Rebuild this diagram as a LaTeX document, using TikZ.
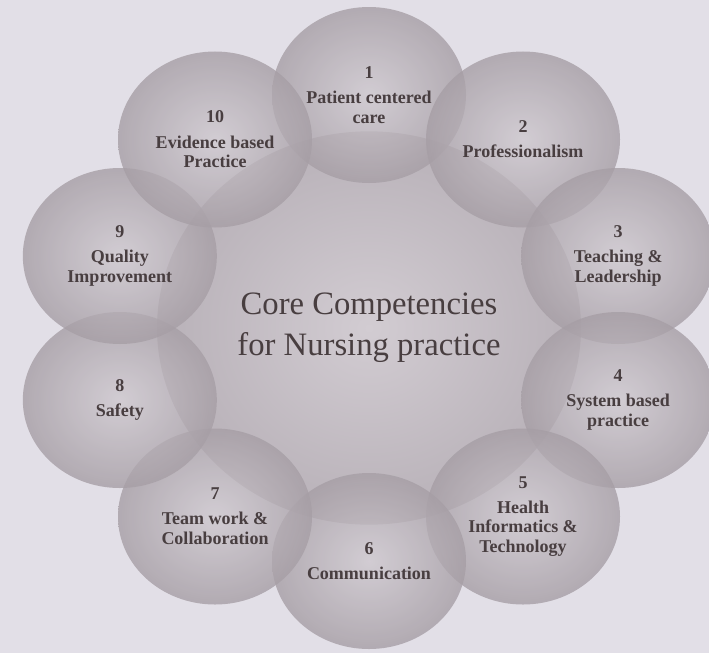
\documentclass[tikz,border=0pt]{standalone}
\usepackage{fontspec}
\setmainfont{Liberation Serif}
\usetikzlibrary{shapes.geometric}
\definecolor{paper}{RGB}{226,223,231}
\definecolor{ballin}{RGB}{206,200,206}
\definecolor{ballout}{RGB}{166,158,165}
\definecolor{corein}{RGB}{210,204,210}
\definecolor{coreout}{RGB}{184,177,184}
\definecolor{ink}{RGB}{72,62,64}
\begin{document}
\begin{tikzpicture}[x=0.75pt, y=-0.75pt, font=\bfseries\fontsize{13.5}{14.8}\selectfont]
	\tikzset{ring/.style={ellipse, minimum width=145.5pt, minimum height=132pt, inner sep=0pt,
			inner color=ballin, outer color=ballout, fill opacity=0.8, text opacity=1, text=ink, align=center}}
	\useasboundingbox (0,0) rectangle (709,653);
	\fill[paper] (0,0) rectangle (709,653);
	% centre disc
	\node[ring, minimum width=318pt, minimum height=295pt, inner color=corein, outer color=coreout, fill opacity=1,
		font=\mdseries\fontsize{24.5}{30.75}\selectfont] (core) at (369,328) {Core Competencies\\for Nursing practice};
	% the ten competencies, clockwise from the top
	\foreach \i/\txt in {1/{1\\[4pt]Patient centered\\care}, 2/{2\\[4pt]Professionalism},
			3/{3\\[4pt]Teaching \&\\Leadership}, 4/{4\\[4pt]System based\\practice},
			5/{5\\[4pt]Health\\Informatics \&\\Technology}, 6/{6\\[4pt]Communication},
			7/{7\\[4pt]Team work \&\\Collaboration}, 8/{8\\[4pt]Safety},
			9/{9\\[4pt]Quality\\Improvement}, 10/{10\\[4pt]Evidence based\\Practice}}
		\node[ring] (c\i) at ({369+262*cos(126-36*\i)}, {328-233*sin(126-36*\i)}) {\txt};
\end{tikzpicture}
\end{document}
